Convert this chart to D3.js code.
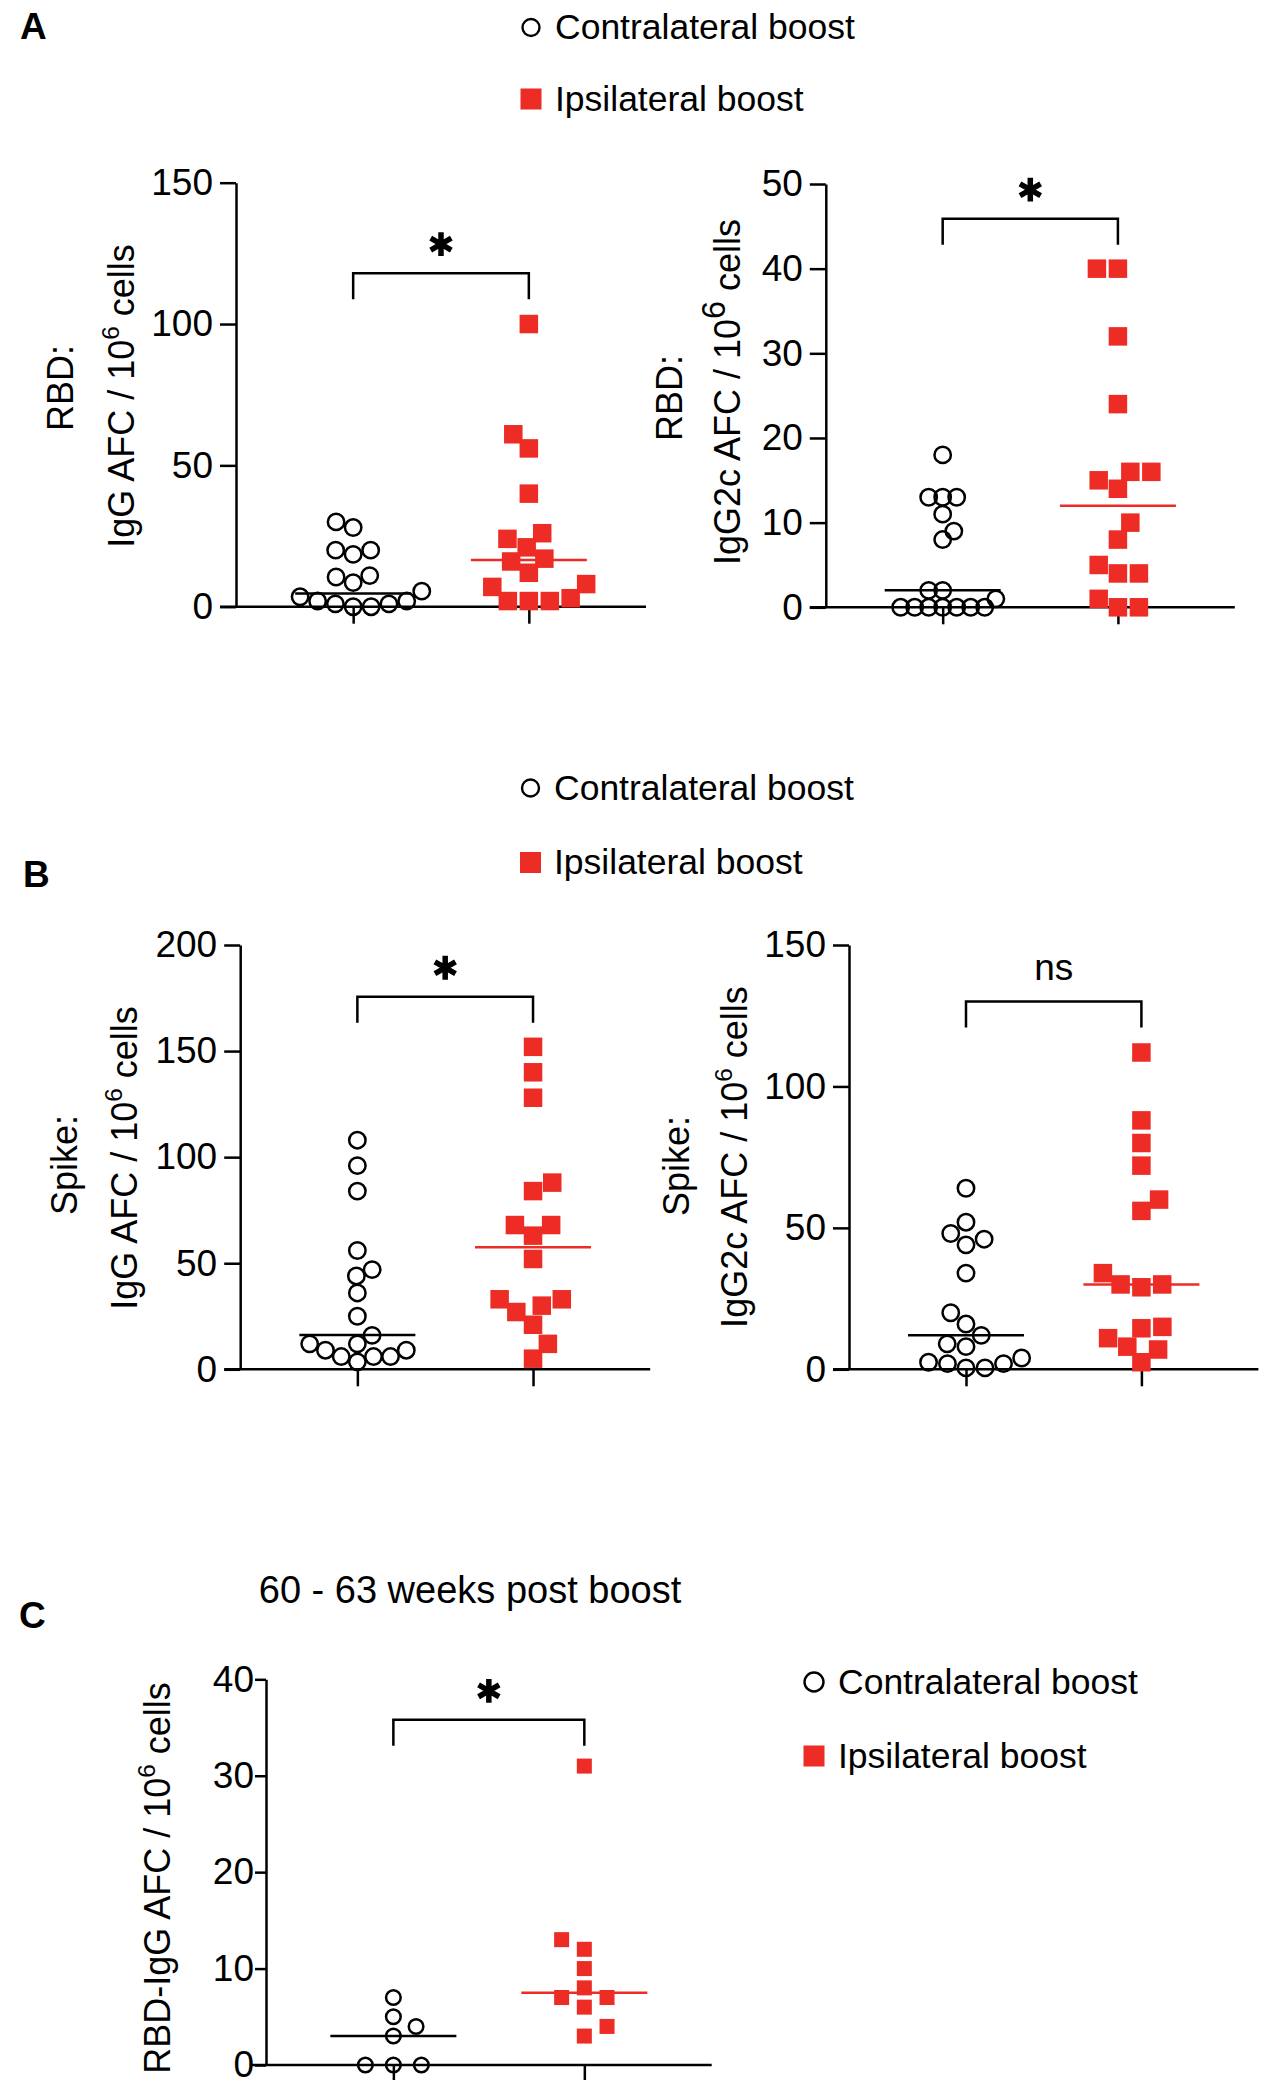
<!DOCTYPE html>
<html>
<head>
<meta charset="utf-8">
<script src="https://cdn.jsdelivr.net/npm/d3@7"></script>
<style>
  body { margin: 0; background: #fff; }
  svg { display: block; }
</style>
</head>
<body>
<svg id="fig" width="1280" height="2100"></svg>
<script>
/* scatter dot plots: AFC per 10^6 cells, contralateral vs ipsilateral boost */

var groups = ["Contralateral boost", "Ipsilateral boost"];

// A, left: RBD IgG
var rbd_igg_contra = [30, 28, 20, 20, 18.5, 11, 10.5, 8.5, 5.5, 3.5, 2, 2, 1, 1, 0, 0];
var rbd_igg_ipsi   = [100, 61, 56, 40, 26, 24, 21, 17, 16, 12, 8, 7, 3, 2, 2, 2];
var rbd_igg_median = [4.7, 16.5];
var rbd_igg_ticks  = [0, 50, 100, 150];

// A, right: RBD IgG2c
var rbd_igg2c_contra = [18, 13, 13, 13, 11, 9, 8, 2, 2, 1, 0, 0, 0, 0, 0, 0, 0];
var rbd_igg2c_ipsi   = [40, 40, 32, 24, 16, 16, 15, 14, 10, 8, 5, 4, 4, 1, 0, 0];
var rbd_igg2c_median = [2, 12];
var rbd_igg2c_ticks  = [0, 10, 20, 30, 40, 50];

// B, left: Spike IgG
var spike_igg_contra = [108, 96, 84, 56, 47, 44, 36, 25, 16, 12, 12, 9, 9, 6, 6, 6, 3.5];
var spike_igg_ipsi   = [152, 140, 128, 88, 84, 68, 68, 63, 52, 33, 33, 30, 27, 21, 12, 5];
var spike_igg_median = [16.2, 57.5];
var spike_igg_ticks  = [0, 50, 100, 150, 200];

// B, right: Spike IgG2c
var spike_igg2c_contra = [64, 52, 48, 46, 44, 34, 20, 16, 12, 9, 8, 4, 2.5, 2, 2, 0.5, 0.5];
var spike_igg2c_ipsi   = [112, 88, 80, 72, 60, 56, 34, 30, 30, 29, 15, 14.5, 11, 8, 7, 2.5];
var spike_igg2c_median = [12, 30];
var spike_igg2c_ticks  = [0, 50, 100, 150];

// C: RBD IgG, 60 - 63 weeks post boost
var late_contra = [7, 5, 4, 3, 0, 0, 0];
var late_ipsi   = [31, 13, 12, 10, 8, 7, 7, 6, 4, 3];
var late_median = [3, 7.5];
var late_ticks  = [0, 10, 20, 30, 40];

var FONT = '"Liberation Sans", Arial, Helvetica, sans-serif';
var RED = "#ec2c25";

var svg = d3.select("#fig");
svg.append("rect").attr("width", 1280).attr("height", 2100).attr("fill", "#fff");

var panels = [
	{ contra: rbd_igg_contra, ipsi: rbd_igg_ipsi, median: rbd_igg_median, ticks: rbd_igg_ticks,
	  sig: "*", bracket: 118, x: 236, y: 182.7, w: 410, h: 424, dc: 18, ds: 21, k: 1,
	  lab1: "RBD:", lab1x: 60.6, lab1y: 388, lab2: "IgG AFC / 10", lab2x: 121, lab2y: 396, sup: 0.68 },
	{ contra: rbd_igg2c_contra, ipsi: rbd_igg2c_ipsi, median: rbd_igg2c_median, ticks: rbd_igg2c_ticks,
	  sig: "*", bracket: 45.9, x: 825.8, y: 184, w: 409, h: 423.3, dc: 14, ds: 21, k: 1,
	  lab1: "RBD:", lab1x: 669.7, lab1y: 398, lab2: "IgG2c AFC / 10", lab2x: 727, lab2y: 392, sup: 0.9 },
	{ contra: spike_igg_contra, ipsi: spike_igg_ipsi, median: spike_igg_median, ticks: spike_igg_ticks,
	  sig: "*", bracket: 175.6, x: 240.2, y: 945, w: 410, h: 424.3, dc: 17, ds: 21, k: 1,
	  lab1: "Spike:", lab1x: 64.7, lab1y: 1165, lab2: "IgG AFC / 10", lab2x: 124, lab2y: 1158, sup: 0.68 },
	{ contra: spike_igg2c_contra, ipsi: spike_igg2c_ipsi, median: spike_igg2c_median, ticks: spike_igg2c_ticks,
	  sig: "ns", bracket: 130, x: 849, y: 945, w: 409.4, h: 424.3, dc: 19, ds: 21, k: 1,
	  lab1: "Spike:", lab1x: 676.7, lab1y: 1166, lab2: "IgG2c AFC / 10", lab2x: 734, lab2y: 1157, sup: 0.68 },
	{ contra: late_contra, ipsi: late_ipsi, median: late_median, ticks: late_ticks,
	  sig: "*", bracket: 35.8, x: 266, y: 1679.3, w: 445.7, h: 385.7, small: true, dc: 28, ds: 28, k: 1.7,
	  lab1: null, lab2: "RBD-IgG AFC / 10", lab2x: 157, lab2y: 1878, sup: 0.68 }
];

// simple beeswarm: put each point as close to the group centre as it can go
// (k stretches the vertical distance, so points stack up in a column more readily)
function dodge(values, yscale, diam, k){
	var order = d3.range(values.length).sort(function(a, b){ return values[a] - values[b]; });
	var placed = [];
	var xs = [];
	var side = 1;
	order.forEach(function(i){
		var y = yscale(values[i]);
		var cands = [0];
		placed.forEach(function(p){
			var dy = Math.abs(p.y - y) * k;
			if(dy < diam){
				var dx = Math.sqrt(diam * diam - dy * dy);
				cands.push(p.x + dx, p.x - dx);
			}
		});
		cands.sort(function(a, b){
			var d = Math.abs(a) - Math.abs(b);
			if(Math.abs(d) > 0.01) return d;
			return side * (b - a);
		});
		for(var n = 0; n < cands.length; n++){
			var c = cands[n];
			var ok = placed.every(function(p){
				var dy = (p.y - y) * k;
				return (p.x - c) * (p.x - c) + dy * dy >= diam * diam - 0.5;
			});
			if(ok){
				xs[i] = c;
				placed.push({ x: c, y: y });
				if(c !== 0) side = c > 0 ? -1 : 1;
				break;
			}
		}
	});
	return xs;
}

function draw_panel(p){
	var g = svg.append("g").attr("transform", "translate(" + p.x + "," + p.y + ")");
	var tickLen = p.small ? 11 : 16;

	var x = d3.scalePoint().domain(groups).range([0, p.w]).padding(0.667);
	var y = d3.scaleLinear().domain([0, d3.max(p.ticks)]).range([p.h, 0]);

	// y axis
	var ya = g.append("g")
	.call(d3.axisLeft(y).tickValues(p.ticks).tickSize(tickLen).tickSizeOuter(0)
		.tickPadding(p.small ? 1 : 7).tickFormat(d3.format("d")));
	ya.selectAll("path, line").attr("stroke", "#000").attr("stroke-width", 2.5);
	ya.selectAll("text").attr("fill", "#000").attr("font-family", FONT)
	.attr("font-size", 37);

	// x axis
	g.append("line")
	.attr("x1", -(p.small ? 14 : tickLen)).attr("x2", p.w)
	.attr("y1", p.h).attr("y2", p.h)
	.attr("stroke", "#000").attr("stroke-width", 2.5);
	var xa = g.append("g").attr("transform", "translate(0," + p.h + ")")
	.call(d3.axisBottom(x).tickSize(p.small ? 15 : 17).tickFormat(""));
	xa.select(".domain").remove();
	xa.selectAll("line").attr("stroke", "#000").attr("stroke-width", 2.5);

	// contralateral: open circles
	var r = p.small ? 7.3 : 8.2;
	var cx = dodge(p.contra, y, p.dc, p.k);
	g.append("g").selectAll("circle")
	.data(p.contra).enter().append("circle")
	.attr("cx", function(d, i){ return x(groups[0]) + cx[i]; })
	.attr("cy", function(d){ return y(d); })
	.attr("r", r)
	.attr("fill", "none").attr("stroke", "#000").attr("stroke-width", 2.5);

	// ipsilateral: filled squares
	var s = p.small ? 15 : 18.5;
	var sx = dodge(p.ipsi, y, p.ds, p.k);
	g.append("g").selectAll("rect")
	.data(p.ipsi).enter().append("rect")
	.attr("x", function(d, i){ return x(groups[1]) + sx[i] - s / 2; })
	.attr("y", function(d){ return y(d) - s / 2; })
	.attr("width", s).attr("height", s)
	.attr("fill", RED);

	// medians
	var half = p.small ? 63 : 58;
	g.append("g").selectAll("line")
	.data(p.median).enter().append("line")
	.attr("x1", function(d, i){ return x(groups[i]) - half; })
	.attr("x2", function(d, i){ return x(groups[i]) + half; })
	.attr("y1", function(d){ return y(d); })
	.attr("y2", function(d){ return y(d); })
	.attr("stroke", function(d, i){ return i == 0 ? "#000" : RED; })
	.attr("stroke-width", 2.5);

	// significance bracket
	var by = y(p.bracket);
	var x1 = x(groups[0]), x2 = x(groups[1]);
	g.append("path")
	.attr("d", "M" + x1 + "," + (by + 26) + "V" + by + "H" + x2 + "V" + (by + 26))
	.attr("fill", "none").attr("stroke", "#000").attr("stroke-width", 2.5);
	if(p.sig == "*"){
		g.append("path")
		.attr("transform", "translate(" + ((x1 + x2) / 2) + "," + (by - 29) + ")")
		.attr("d", d3.symbol(d3.symbolAsterisk, 400)())
		.attr("fill", "none").attr("stroke", "#000").attr("stroke-width", 5.5);
	} else {
		g.append("text")
		.attr("x", (x1 + x2) / 2).attr("y", by - 22)
		.attr("text-anchor", "middle")
		.attr("font-family", FONT).attr("font-size", 37)
		.text(p.sig);
	}

	// y labels (rotated)
	if(p.lab1){
		svg.append("text")
		.attr("transform", "translate(" + p.lab1x + "," + p.lab1y + ") rotate(-90)")
		.attr("dy", "0.35em").attr("text-anchor", "middle")
		.attr("font-family", FONT).attr("font-size", 36)
		.text(p.lab1);
	}
	var fs = 36;
	var t = svg.append("text")
	.attr("transform", "translate(" + p.lab2x + "," + p.lab2y + ") rotate(-90)")
	.attr("dy", "0.35em").attr("text-anchor", "middle")
	.attr("font-family", FONT).attr("font-size", fs);
	t.append("tspan").text(p.lab2);
	t.append("tspan").attr("font-size", fs * p.sup).attr("dy", -fs * 0.4).text("6");
	t.append("tspan").attr("dy", fs * 0.4).text(" cells");
}

panels.forEach(draw_panel);

// legends
function legend(cx, cy1, cy2, tx, base1, base2, rr){
	svg.append("circle").attr("cx", cx).attr("cy", cy1).attr("r", rr)
	.attr("fill", "none").attr("stroke", "#000").attr("stroke-width", 2.4);
	svg.append("rect").attr("x", cx - 10.5).attr("y", cy2 - 10.5)
	.attr("width", 21).attr("height", 21).attr("fill", RED);
	svg.append("text").attr("x", tx).attr("y", base1)
	.attr("font-family", FONT).attr("font-size", 35.5).text(groups[0]);
	svg.append("text").attr("x", tx).attr("y", base2)
	.attr("font-family", FONT).attr("font-size", 35.5).text(groups[1]);
}
legend(531, 27.5, 99, 555, 38.5, 111, 8.5);
legend(530.5, 788, 862.5, 554, 800, 874, 8.5);
legend(814, 1682, 1756, 838, 1694, 1768, 9.5);

// panel letters and title
[["A", 20, 38.5], ["B", 23, 886.5], ["C", 19, 1628]].forEach(function(d){
	svg.append("text").attr("x", d[1]).attr("y", d[2])
	.attr("font-family", FONT).attr("font-weight", "bold").attr("font-size", 37)
	.text(d[0]);
});

svg.append("text").attr("x", 470).attr("y", 1603)
.attr("text-anchor", "middle")
.attr("font-family", FONT).attr("font-size", 38)
.text("60 - 63 weeks post boost");
</script>
</body>
</html>
